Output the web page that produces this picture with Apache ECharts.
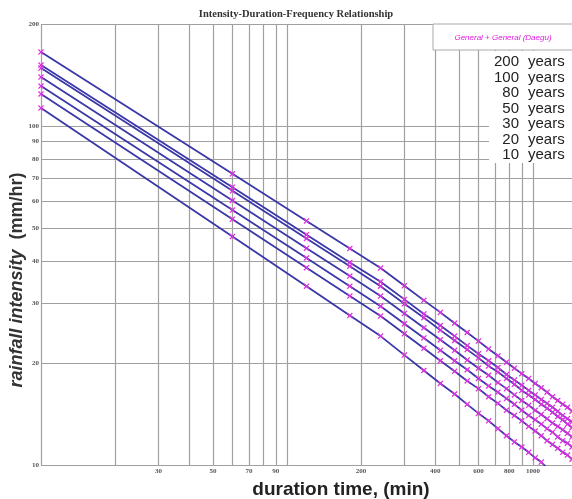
<!DOCTYPE html>
<html><head><meta charset="utf-8">
<script src="https://cdn.jsdelivr.net/npm/echarts@6/dist/echarts.min.js"></script>
<style>html,body{margin:0;padding:0;background:#fff}#c{width:572px;height:499px}</style>
</head><body><div id="c"></div>
<script>
// durations (min)
const durations = [10,60,120,180,240,300,360,420,480,540,600,660,720,780,840,900,960,1020,1080,1140,1200,1260,1320,1380,1440];
const periods = ['200','100','80','50','30','20','10'];
// rainfall intensity (mm/hr) per return period
const i200 = [165.3,72.3,52.5,43.5,38.1,33.8,30.6,28.2,26.2,24.6,23.2,22.0,21.0,20.1,19.3,18.6,18.0,17.4,16.9,16.4,15.9,15.5,15.1,14.8,14.4];
const i100 = [151.3,66.0,47.8,39.6,34.7,30.8,27.9,25.8,24.0,22.5,21.3,20.3,19.4,18.5,17.8,17.2,16.6,16.1,15.6,15.2,14.8,14.4,14.0,13.7,13.4];
const i80  = [148.3,64.4,46.6,38.6,33.7,29.9,27.2,25.0,23.3,21.9,20.7,19.6,18.8,18.0,17.3,16.6,16.1,15.6,15.1,14.7,14.3,13.9,13.6,13.2,12.9];
const i50  = [139.5,60.3,43.6,36.1,31.5,28.0,25.4,23.4,21.8,20.4,19.3,18.4,17.5,16.8,16.1,15.5,15.0,14.5,14.1,13.7,13.3,13.0,12.7,12.4,12.1];
const i30  = [131.2,56.5,40.8,33.7,29.4,26.1,23.7,21.8,20.3,19.1,18.0,17.1,16.4,15.7,15.1,14.5,14.0,13.6,13.2,12.8,12.5,12.1,11.8,11.6,11.3];
const i20  = [124.3,53.1,38.2,31.5,27.5,24.4,22.1,20.3,18.9,17.7,16.8,15.9,15.2,14.5,14.0,13.5,13.0,12.6,12.2,11.8,11.5,11.2,10.9,10.7,10.4];
const i10  = [113.0,47.2,33.7,27.6,24.0,21.1,19.0,17.4,16.2,15.1,14.2,13.5,12.8,12.2,11.7,11.3,10.9,10.5,10.2,9.8,9.6,9.3,9.1,8.8,8.6];
const seriesValues = [i200,i100,i80,i50,i30,i20,i10];

// axes
const xGridValues = [10,20,30,40,50,60,70,80,90,100,200,300,400,500,600,700,800,900,1000];
const xTickLabels = [30,50,70,90,200,400,600,800,1000];
const yGridValues = [10,20,30,40,50,60,70,80,90,100,200];
const yTickLabels = [10,20,30,40,50,60,70,80,90,100,200];

const titleText = 'Intensity-Duration-Frequency Relationship';
const boxText = 'General + General (Daegu)';
const xName = 'duration time, (min)';
const yNameA = 'rainfall intensity';
const yNameB = '(mm/hr)';

const chart = echarts.init(document.getElementById('c'), null, {renderer:'canvas'});

const xSymbol = 'path://M0,1.5 L1.5,0 L5,3.5 L8.5,0 L10,1.5 L6.5,5 L10,8.5 L8.5,10 L5,6.5 L1.5,10 L0,8.5 L3.5,5 Z';
const tickFont = {fontSize:7, color:'#555', fontWeight:'bold', fontFamily:'Liberation Serif'};

const gridLineData = [];
xGridValues.forEach(v => gridLineData.push({
  xAxis: v,
  label: Object.assign({show: xTickLabels.includes(v), position:'start', distance:3, formatter: String(v)}, tickFont)
}));
yGridValues.forEach(v => gridLineData.push({
  yAxis: v,
  label: Object.assign({show: yTickLabels.includes(v), position:'start', distance:2, formatter: String(v)}, tickFont)
}));

const series = [{
  type:'line', data:[], silent:true,
  markLine:{
    z:1, silent:true, animation:false, symbol:['none','none'],
    lineStyle:{color:'#a0a0a0', width:1.2, type:'solid'},
    emphasis:{disabled:true},
    data: gridLineData
  }
}];
seriesValues.forEach((vals, k) => {
  series.push({
    name: periods[k] + ' years',
    type:'line',
    z:3,
    data: durations.map((d,i) => [d, vals[i]]),
    symbol: xSymbol, symbolSize:6, showSymbol:true,
    itemStyle:{color:'#e030e0'},
    lineStyle:{color:'#3a37a8', width:1.8},
    clip:true, animation:false
  });
});

const graphics = [
  {type:'text', x:296, y:14, z:100, style:{text:titleText, font:'bold 10.5px "Liberation Serif"', fill:'#333', textAlign:'center', textVerticalAlign:'middle'}},
  {type:'rect', z:100, shape:{x:433, y:24, width:140, height:26}, style:{fill:'#fff', stroke:'#aaa', lineWidth:1}},
  {type:'text', x:503, y:38, z:101, style:{text:boxText, font:'italic 8px "Liberation Sans"', fill:'#e020e0', textAlign:'center', textVerticalAlign:'middle'}},
  {type:'rect', z:100, shape:{x:489, y:51, width:84, height:112}, style:{fill:'#fff', lineWidth:0}},
  {type:'text', x:17, y:280, z:100, rotation:Math.PI/2, style:{
    text:'{a|' + yNameA + '}   {b|' + yNameB + '}', textAlign:'center', textVerticalAlign:'middle',
    rich:{a:{font:'italic bold 18px "Liberation Sans"', fill:'#333'}, b:{font:'bold 18px "Liberation Sans"', fill:'#333'}}
  }},
  {type:'text', x:341, y:490, z:100, style:{text:xName, font:'bold 19px "Liberation Sans"', fill:'#222', textAlign:'center', textVerticalAlign:'middle'}}
];
periods.forEach((p,i) => {
  graphics.push({type:'text', x:519, y:62+15.5*i, z:101, style:{text:p, font:'15px "Liberation Sans"', fill:'#222', textAlign:'right', textVerticalAlign:'middle'}});
  graphics.push({type:'text', x:528, y:62+15.5*i, z:101, style:{text:'years', font:'15px "Liberation Sans"', fill:'#222', textAlign:'left', textVerticalAlign:'middle'}});
});

chart.setOption({
  animation:false,
  backgroundColor:'#fff',
  grid:{left:41, top:24, width:532, height:441, containLabel:false},
  xAxis:{type:'log', logBase:10, min:10, max:1440,
    axisLine:{show:false}, axisTick:{show:false}, axisLabel:{show:false}, splitLine:{show:false}},
  yAxis:{type:'log', logBase:10, min:10, max:200,
    axisLine:{show:false}, axisTick:{show:false}, axisLabel:{show:false}, splitLine:{show:false}},
  series: series,
  graphic: graphics
});
</script></body></html>
